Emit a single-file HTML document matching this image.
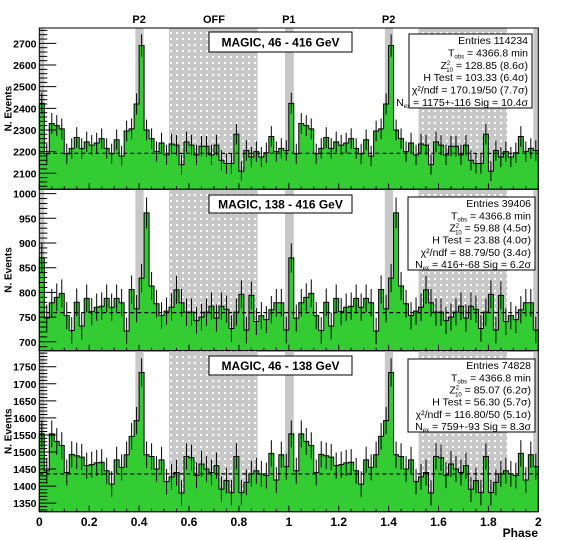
<!DOCTYPE html>
<html><head><meta charset="utf-8"><style>
body{margin:0;background:#fff;}
svg{display:block;font-family:"Liberation Sans",Arial,sans-serif;font-weight:bold;}
</style></head><body>
<svg id="c" width="567" height="540" xmlns="http://www.w3.org/2000/svg">
<defs>
<pattern id="dots" width="6" height="6" patternUnits="userSpaceOnUse"><rect width="6" height="6" fill="#c8c8c8"/><rect x="2" y="2" width="2" height="2" fill="#fff"/></pattern>
</defs>
</svg>
<script>
const phaseBins = 50;
const p1Values = [2423,2190,2330,2320,2305,2190,2215,2265,2215,2245,2230,2240,2260,2215,2190,2255,2180,2295,2305,2420,2690,2300,2260,2200,2240,2185,2235,2230,2140,2245,2230,2185,2225,2225,2185,2230,2160,2145,2145,2280,2110,2205,2175,2200,2175,2195,2270,2200,2215,2205];
const p2Values = [870,748,779,790,798,753,723,780,732,788,761,770,772,788,770,788,779,722,806,767,829,961,813,777,753,762,770,805,779,760,760,743,750,760,772,748,772,766,727,760,796,724,794,741,753,745,765,779,779,724];
const p3Values = [1553,1445,1553,1531,1519,1440,1493,1489,1485,1460,1463,1468,1470,1445,1406,1477,1455,1492,1546,1592,1733,1492,1487,1450,1477,1413,1427,1440,1380,1487,1483,1432,1465,1450,1440,1460,1391,1416,1381,1487,1381,1411,1436,1445,1436,1431,1496,1418,1492,1457];
const baselines = [2192,759,1436];
const p1Ticks = [2100,2200,2300,2400,2500,2600,2700];
const p2Ticks = [700,750,800,850,900,950,1000];
const p3Ticks = [1350,1400,1450,1500,1550,1600,1650,1700,1750];
const xTicks = [0,0.2,0.4,0.6,0.8,1,1.2,1.4,1.6,1.8,2];
const titles = ["MAGIC, 46 - 416 GeV","MAGIC, 138 - 416 GeV","MAGIC, 46 - 138 GeV"];
const stats = [
 ["Entries  114234","128.85  (8.6σ)","H Test = 103.33  (6.4σ)","χ²/ndf = 170.19/50  (7.7σ)","1175+-116   Sig = 10.4σ"],
 ["Entries  39406","59.88  (4.5σ)","H Test = 23.88  (4.0σ)","χ²/ndf = 88.79/50  (3.4σ)","416+-68   Sig = 6.2σ"],
 ["Entries  74828","85.07  (6.2σ)","H Test = 56.30  (5.7σ)","χ²/ndf = 116.80/50  (5.1σ)","759+-93   Sig = 8.3σ"]];

const svg = document.getElementById('c');
const NS = 'http://www.w3.org/2000/svg';
function mk(tag, attrs, parent){const e=document.createElementNS(NS,tag);for(const k in attrs)e.setAttribute(k,attrs[k]);(parent||svg).appendChild(e);return e;}
const X0=39.3, X1=538.3;
const xs = p => X0 + p*(X1-X0)/2;
const panels = [
 {vals:p1Values,ticks:p1Ticks,top:28,bot:189.3,min:2026,max:2771,minor:20,box:[409,34,532,108],tb:[209,32,352,52]},
 {vals:p2Values,ticks:p2Ticks,top:189.3,bot:350.7,min:682,max:1008.7,minor:10,box:[408,197,535,270],tb:[209,195,352,213]},
 {vals:p3Values,ticks:p3Ticks,top:350.7,bot:511.7,min:1325,max:1797,minor:10,box:[408,359,535,432],tb:[209,356,352,375]}];

panels.forEach((P,pi)=>{
 const ys = v => P.bot - (v-P.min)/(P.max-P.min)*(P.bot-P.top);
 const g = mk('g',{});
 
 
 [[-0.02,0.02],[0.385,0.418],[0.985,1.02],[1.385,1.418],[1.98,2.0]].forEach(b=>{
  const r=mk('rect',{x:xs(Math.max(0,b[0])),y:P.top,width:xs(Math.min(2,b[1]))-xs(Math.max(0,b[0])),height:P.bot-P.top,fill:'#c8c8c8'},g);
  
  
 });
 [[0.52,0.875],[1.52,1.875]].forEach(b=>{
  const r=mk('rect',{x:xs(b[0]),y:P.top,width:xs(b[1])-xs(b[0]),height:P.bot-P.top,fill:'url(#dots)'},g);
  
  
 });
 let d='M'+xs(0)+','+P.bot;
 const n=phaseBins*2, w=2/n;
 for(let i=0;i<n;i++){const v=P.vals[i%phaseBins];d+=' L'+xs(i*w)+','+ys(v)+' L'+xs((i+1)*w)+','+ys(v);}
 d+=' L'+xs(2)+','+P.bot+' Z';
 const h=mk('path',{d:d,fill:'#33cc33',stroke:'#000','stroke-width':1},g);
 
 
 for(let i=0;i<n;i++){const v=P.vals[i%phaseBins];const e=Math.sqrt(v);const cx=xs((i+0.5)*w);
  const l=mk('line',{x1:cx,x2:cx,y1:ys(v+e),y2:ys(v-e),stroke:'#000','stroke-width':1},g);
  
  }
 const bl=mk('line',{x1:xs(0),x2:xs(2),y1:ys(baselines[pi]),y2:ys(baselines[pi]),stroke:'#000','stroke-width':1.3,'stroke-dasharray':'4,3'},g);
 
 
 const fr=mk('rect',{x:X0,y:P.top,width:X1-X0,height:P.bot-P.top,fill:'none',stroke:'#000','stroke-width':1},g);
 
 
 for(let v=Math.ceil(P.min/P.minor)*P.minor; v<=P.max; v+=P.minor){
  const major=P.ticks.includes(v);
  mk('line',{x1:X0,x2:X0+(major?17:8),y1:ys(v),y2:ys(v),stroke:'#000','stroke-width':1},g);
 }
 P.ticks.forEach(v=>{const t=mk('text',{x:36.5,y:ys(v)+4,'text-anchor':'end','font-size':10.5},g);t.textContent=v;
  
  });
 for(let k=0;k<=40;k++){const p=k*0.05;const major=k%4===0;mk('line',{x1:xs(p),x2:xs(p),y1:P.bot,y2:P.bot-(major?6:3),stroke:'#000','stroke-width':1},g);}
 const cy=(P.top+P.bot)/2;
 const yt=mk('text',{x:8,y:cy+3.5,'text-anchor':'middle','font-size':10,transform:'rotate(-90 8 '+cy+')'},g);
 yt.textContent='N. Events';
 
 
 const tb=P.tb;
 mk('rect',{x:tb[0],y:tb[1],width:tb[2]-tb[0],height:tb[3]-tb[1],fill:'#fff',stroke:'#000'},g);
 const tt=mk('text',{x:(tb[0]+tb[2])/2,y:(tb[1]+tb[3])/2+4.5,'text-anchor':'middle','font-size':12},g);
 tt.textContent=titles[pi];
 
 
 const b=P.box;
 const sb=mk('rect',{x:b[0],y:b[1],width:b[2]-b[0],height:b[3]-b[1],fill:'#fff',stroke:'#000'},g);
 
 
 const rh=(b[3]-b[1])/6; const rx=b[2]-4;
 const s=stats[pi];
 const rows=[
  s[0],
  'T<tspan font-size="6" dy="2">obs</tspan><tspan dy="-2"> = 4366.8 min</tspan>',
  'Z<tspan font-size="6" dy="-4">2</tspan><tspan font-size="6" dx="-4" dy="7">10</tspan><tspan dy="-3"> = '+s[1]+'</tspan>',
  s[2], s[3],
  'N<tspan font-size="6" dy="2">ex</tspan><tspan dy="-2"> = '+s[4]+'</tspan>'];
 rows.forEach((r,ri)=>{const t=mk('text',{x:rx,y:b[1]+rh*(ri+0.5)+4,'text-anchor':'end','font-size':10.5,'font-weight':'normal'},g);t.innerHTML=r;
  
  });
});
[['P2',0.4],['OFF',0.7],['P1',1.0],['P2',1.4]].forEach(l=>{const t=mk('text',{x:xs(l[1]),y:23,'text-anchor':'middle','font-size':11});t.textContent=l[0];
 
 });
xTicks.forEach(p=>{const t=mk('text',{x:xs(p),y:526,'text-anchor':'middle','font-size':12});t.textContent=String(p);
 
 });
const xt=mk('text',{x:538,y:537,'text-anchor':'end','font-size':12});
xt.textContent='Phase';


</script>
</body></html>
